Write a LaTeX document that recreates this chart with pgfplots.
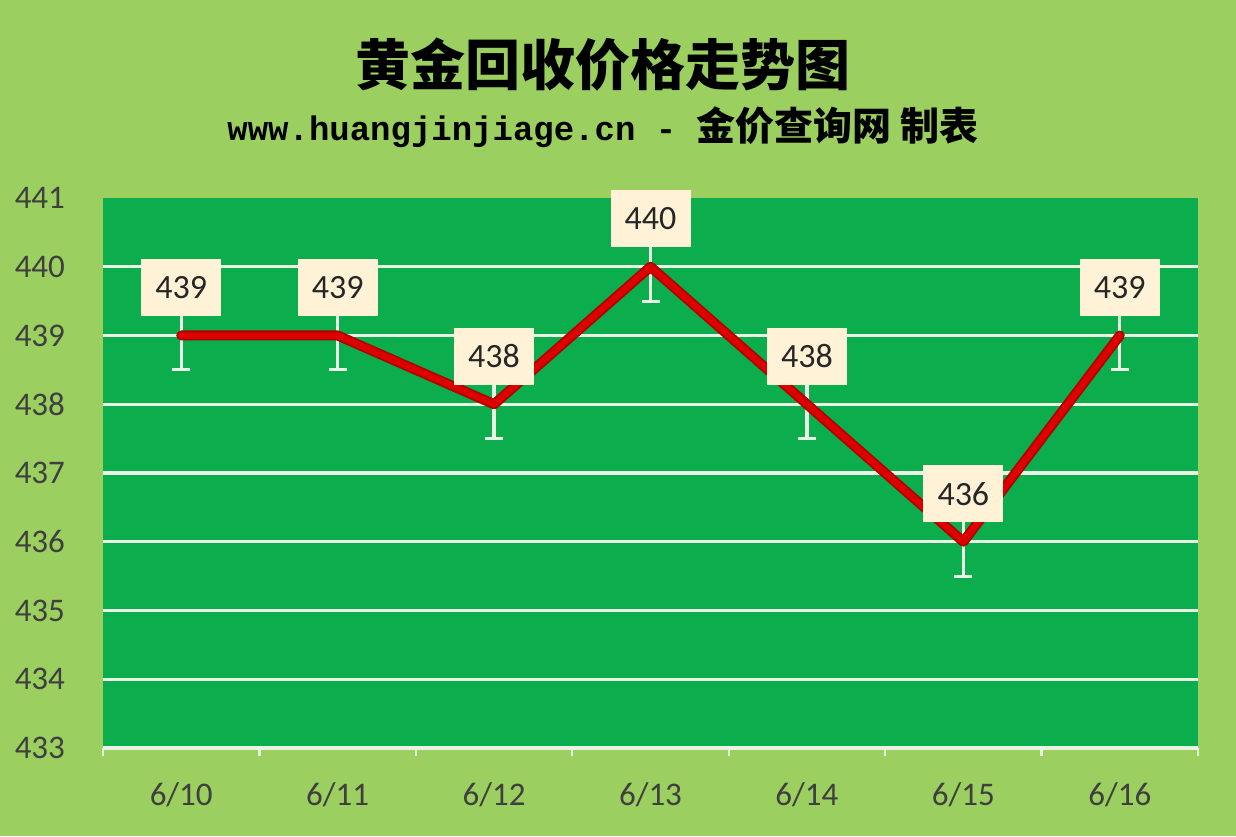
\documentclass[border=0pt]{standalone}
\usepackage{fontspec}
\setmainfont{Carlito}
\newfontfamily\cjk{Noto Sans CJK SC}
\newfontfamily\mono{Liberation Mono}
\usepackage{pgfplots}
\pgfplotsset{compat=1.18}

\definecolor{bgcol}{HTML}{9BCF5F}
\definecolor{plotgreen}{HTML}{0BAD4C}
\definecolor{gridcol}{HTML}{EAF4E4}
\definecolor{darkline}{HTML}{B00000}
\definecolor{redline}{HTML}{DC0000}
\definecolor{labelfill}{HTML}{FFF2D6}
\definecolor{ticktext}{HTML}{3F3F3F}

\pgfplotstableread{
x price
0 439
1 439
2 438
3 440
4 438
5 436
6 439
}\prices

\begin{document}
\begin{tikzpicture}
\fill[bgcol] (0,0) rectangle (618pt,418pt);

\node[font=\cjk\bfseries\fontsize{27.5}{30}\selectfont] at (301.5pt,385.5pt) {黄金回收价格走势图};
\node at (301.5pt,354.5pt) {{\mono\bfseries\fontsize{17}{20}\selectfont www.huangjinjiage.cn - }{\cjk\bfseries\fontsize{19.5}{22}\selectfont 金价查询网 制表}};

\begin{axis}[
    at={(51.5pt,44pt)}, anchor=south west,
    scale only axis,
    width=547.5pt, height=275pt,
    xmin=-0.5, xmax=6.5,
    ymin=433, ymax=441,
    /pgf/number format/assume math mode=true,
    axis background/.style={fill=plotgreen},
    axis x line*=bottom, axis y line*=left,
    y axis line style={draw=none},
    x axis line style={draw=gridcol, line width=1.6pt},
    xtick={0,...,6},
    xticklabels={6/10,6/11,6/12,6/13,6/14,6/15,6/16},
    minor xtick={-0.5,0.5,...,6.5},
    ytick={433,...,441},
    extra y ticks={434,...,440},
    extra y tick labels={},
    extra y tick style={grid=major},
    grid style={draw=gridcol, line width=1.6pt},
    major tick length=0pt,
    minor tick length=4pt,
    tick align=outside,
    major tick style={draw=none},
    minor tick style={draw=gridcol, line width=1.2pt},
    ticklabel style={font=\fontsize{16.5}{18}\selectfont, text=ticktext},
    yticklabel style={xshift=-15.5pt},
    xticklabel style={yshift=-14pt},
    clip=false,
]
% error bars
\addplot[draw=none, mark=none,
    error bars/.cd, y dir=both, y fixed=0.5,
    error bar style={draw=gridcol, line width=1.6pt},
    error mark options={draw=gridcol, rotate=90, mark size=4.5pt, line width=1.6pt}]
    table[x=x, y=price] {\prices};
% the price line
\addplot[darkline, line width=5pt, line join=round, line cap=round, mark=none] table[x=x, y=price] {\prices};
\addplot[redline, line width=3.2pt, line join=round, line cap=round, mark=none] table[x=x, y=price] {\prices};
% value labels
\addplot[only marks, mark=none,
    nodes near coords,
    nodes near coords style={
        fill=labelfill, anchor=center, yshift=24pt,
        minimum width=40pt, minimum height=28.5pt, inner sep=0pt,
        font=\fontsize{17}{19}\selectfont, text=black!85,
        /pgf/number format/fixed,
        /pgf/number format/assume math mode=true,
    }]
    table[x=x, y=price] {\prices};
\end{axis}

\pgfresetboundingbox
\path (0,0) rectangle (618pt,418pt);
\end{tikzpicture}
\end{document}
